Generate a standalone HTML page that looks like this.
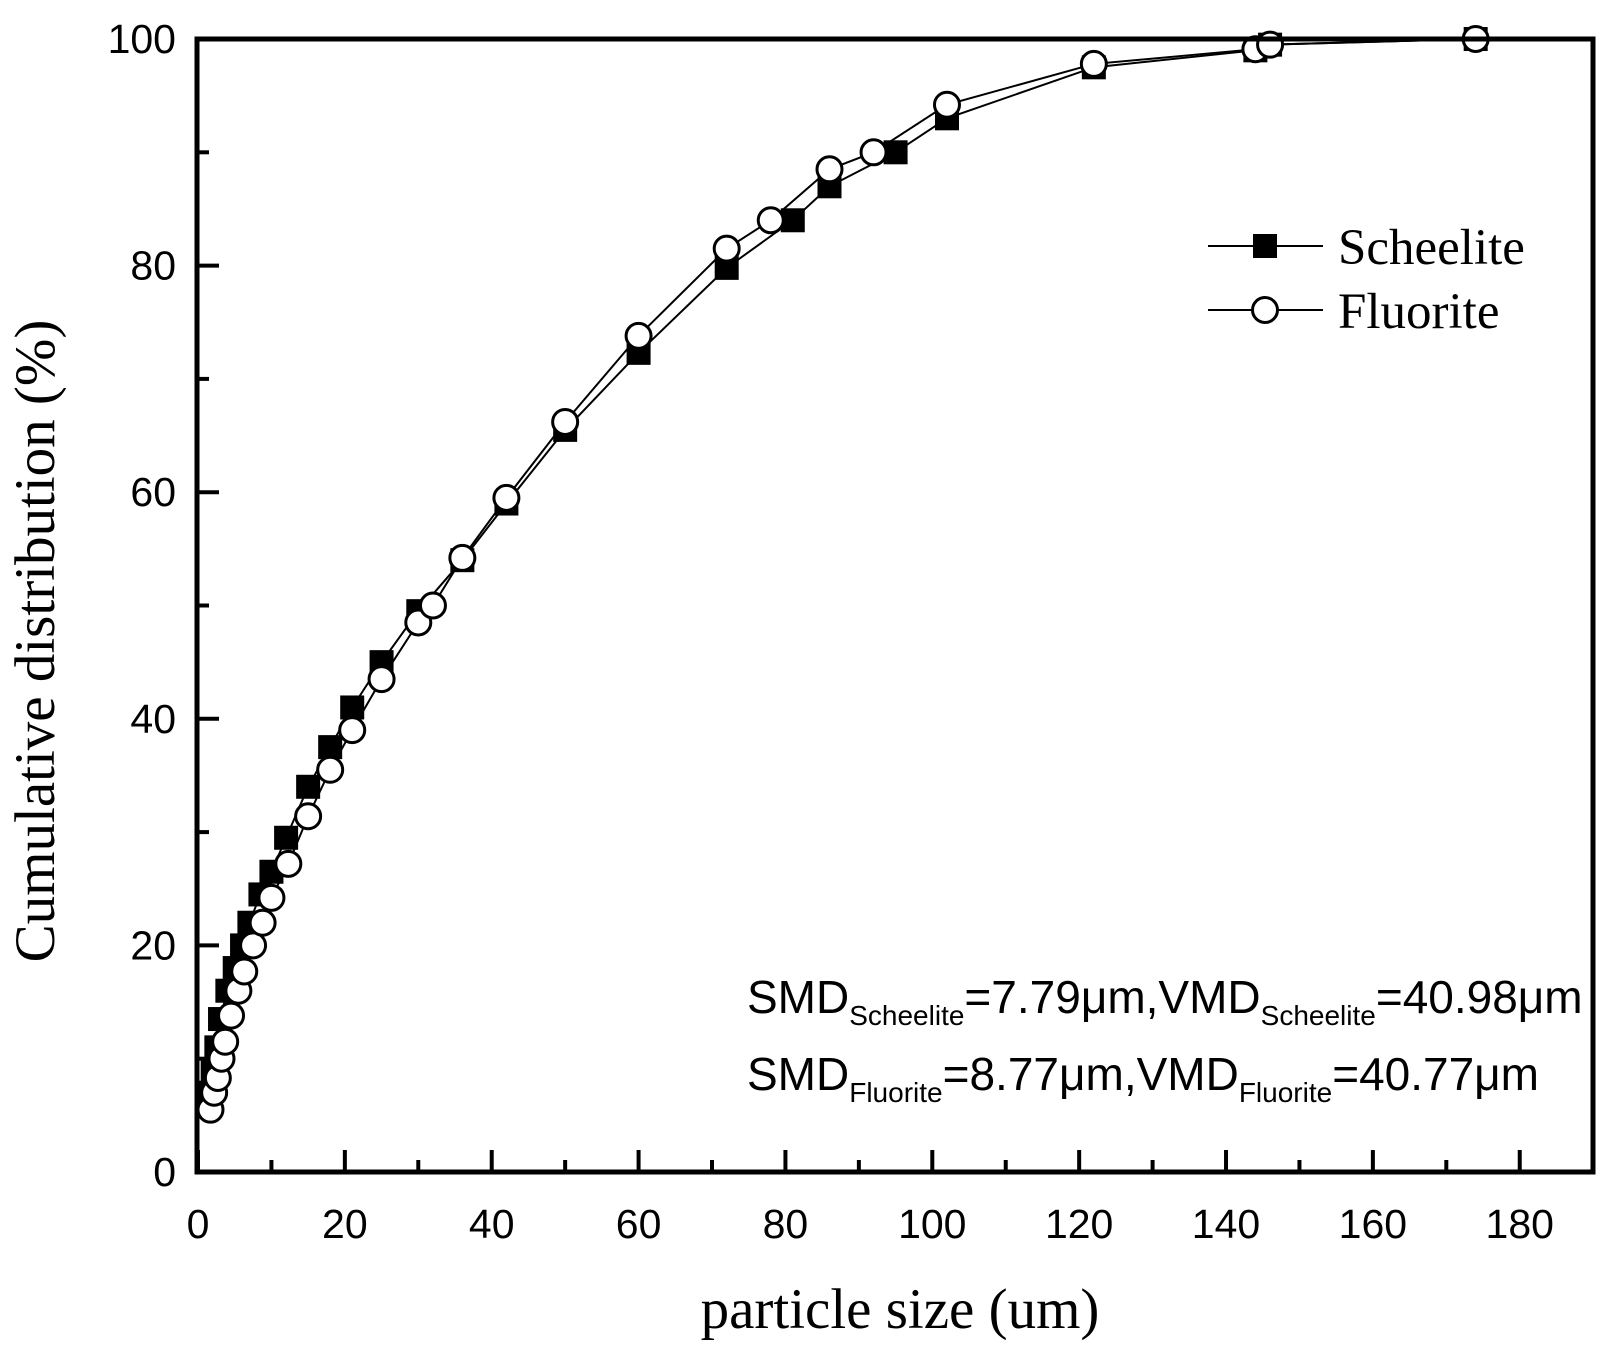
<!DOCTYPE html>
<html><head><meta charset="utf-8"><style>body{margin:0;background:#fff}svg{display:block}</style></head>
<body>
<svg id="s" width="1613" height="1353" xmlns="http://www.w3.org/2000/svg">
<rect width="1613" height="1353" fill="#fff"/>
<g id="g"></g>
<text x="900" y="1328" font-family="Liberation Serif, serif" font-size="57" text-anchor="middle">particle size (um)</text>
<text transform="translate(54,641) rotate(-90)" font-family="Liberation Serif, serif" font-size="57" text-anchor="middle">Cumulative distribution (%)</text>
<line x1="1208" y1="246" x2="1323" y2="246" stroke="#000" stroke-width="2"/>
<rect x="1253" y="234" width="24" height="24" fill="#000"/>
<text x="1338" y="264" font-family="Liberation Serif, serif" font-size="51">Scheelite</text>
<line x1="1208" y1="310" x2="1323" y2="310" stroke="#000" stroke-width="2"/>
<circle cx="1265" cy="310" r="12.5" fill="#fff" stroke="#000" stroke-width="3"/>
<text x="1338" y="328" font-family="Liberation Serif, serif" font-size="51">Fluorite</text>
<text x="747" y="1013" font-family="Liberation Sans, sans-serif" font-size="46">SMD<tspan font-size="28" dy="12">Scheelite</tspan><tspan dy="-12">=7.79μm,VMD</tspan><tspan font-size="28" dy="12">Scheelite</tspan><tspan dy="-12">=40.98μm</tspan></text>
<text x="747" y="1090" font-family="Liberation Sans, sans-serif" font-size="46">SMD<tspan font-size="28" dy="12">Fluorite</tspan><tspan dy="-12">=8.77μm,VMD</tspan><tspan font-size="28" dy="12">Fluorite</tspan><tspan dy="-12">=40.77μm</tspan></text>
</svg>
<script>
const X=v=>198+v*7.343, Y=v=>1172-v*11.33;
const g=document.getElementById('g');let h='';
const S=[[1.5,7],[2,9],[2.5,11],[3,13.5],[4,16],[5,18],[6,20],[7,22],[8.5,24.5],[10,26.5],[12,29.5],[15,34],[18,37.5],[21,41],[25,45],[30,49.5],[36,54],[42,59],[50,65.5],[60,72.3],[72,79.8],[81,84],[86,87],[95,90],[102,93],[122,97.5],[144,99],[146,99.5],[174,100]];
const F=[[1.7,5.5],[2.2,7],[2.7,8.3],[3.2,10],[3.7,11.5],[4.5,13.8],[5.5,16],[6.3,17.7],[7.5,20],[8.8,22],[10,24.2],[12.3,27.2],[15,31.4],[18,35.5],[21,39],[25,43.5],[30,48.5],[32,50],[36,54.2],[42,59.5],[50,66.2],[60,73.8],[72,81.5],[78,84],[86,88.5],[92,90],[102,94.2],[122,97.8],[144,99.1],[146,99.5],[174,100]];
h+=`<polyline fill="none" stroke="#000" stroke-width="2" points="${S.map(p=>X(p[0])+','+Y(p[1])).join(' ')}"/>`;
h+=`<polyline fill="none" stroke="#000" stroke-width="2" points="${F.map(p=>X(p[0])+','+Y(p[1])).join(' ')}"/>`;
S.forEach(p=>h+=`<rect x="${X(p[0])-12}" y="${Y(p[1])-12}" width="24" height="24" fill="#000"/>`);
F.forEach(p=>h+=`<circle cx="${X(p[0])}" cy="${Y(p[1])}" r="12.5" fill="#fff" stroke="#000" stroke-width="3"/>`);
h+=`<rect x="197" y="39" width="1396" height="1133" fill="none" stroke="#000" stroke-width="5"/>`;
for(let v=0;v<=180;v+=10){const big=v%20==0;h+=`<line x1="${X(v)}" x2="${X(v)}" y1="1172" y2="${1172-(big?22:12)}" stroke="#000" stroke-width="4"/>`;
if(big)h+=`<text x="${X(v)}" y="1238" font-family="Liberation Sans, sans-serif" font-size="41" text-anchor="middle">${v}</text>`;}
for(let v=0;v<=100;v+=10){const big=v%20==0;h+=`<line y1="${Y(v)}" y2="${Y(v)}" x1="197" x2="${197+(big?22:12)}" stroke="#000" stroke-width="4"/>`;
if(big)h+=`<text x="176" y="${Y(v)+14}" font-family="Liberation Sans, sans-serif" font-size="41" text-anchor="end">${v}</text>`;}
g.innerHTML=h;
</script>
</body></html>
